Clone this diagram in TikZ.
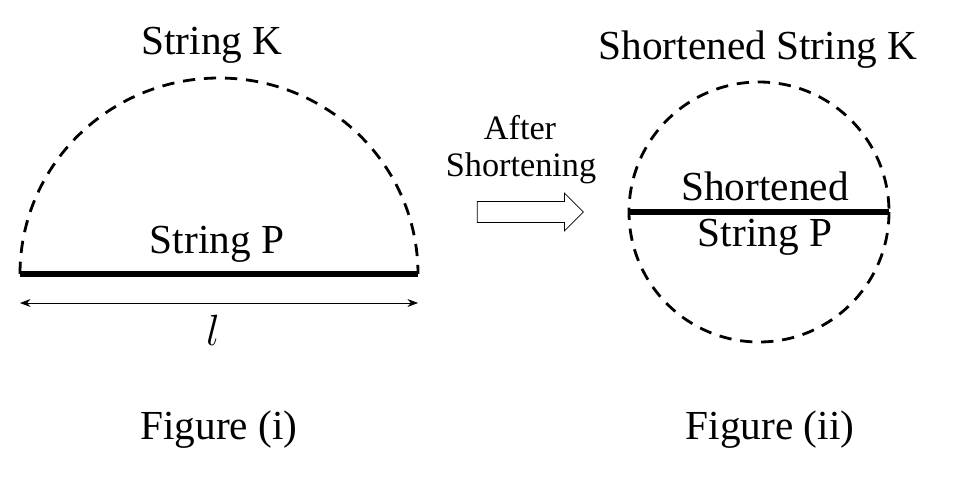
\documentclass[tikz,border=0pt]{standalone}
\usepackage{fontspec}
\setmainfont{Liberation Serif}
\usetikzlibrary{shapes.arrows,arrows.meta}
\begin{document}
\begin{tikzpicture}[x=0.02cm, y=-0.02cm,
    label text/.style = {font=\fontsize{23.5}{27}\selectfont},
    small text/.style = {font=\fontsize{19.5}{23}\selectfont},
    dashed curve/.style = {line width=1.6pt, dash pattern=on 7pt off 5pt},
    thick string/.style = {line width=3pt}]
    \useasboundingbox (0,0) rectangle (953,483);
    % figure (i)
    \coordinate (PL) at (20,274);
    \coordinate (PR) at (418,274);
    \draw[dashed curve] (PL) arc[start angle=180, end angle=0, x radius=199, y radius=-196];
    \draw[thick string] (PL) -- (PR);
    \coordinate (DL) at (20,303);
    \coordinate (DR) at (418,303);
    \draw[{Stealth[length=6pt]}-{Stealth[length=6pt]}] (DL) -- (DR);
    \node[label text] (K) at (212,45) {String K};
    \node[label text] (P) at (217,244) {String P};
    \node[label text] (len) at (213,330) {$l$};
    \node[label text] (fig1) at (219,430) {Figure (i)};
    % arrow between
    \node[small text] (after) at (520,128) {After};
    \node[small text] (short) at (521,168) {Shortening};
    \node[single arrow, draw, thin, minimum width=0.75cm, minimum height=2.12cm,
          single arrow head extend=4pt, inner sep=5pt] (arr) at (525,212) {};
    % figure (ii)
    \coordinate (C) at (759,212);
    \draw[dashed curve] (C) circle[radius=130];
    \coordinate (QL) at (629,212);
    \coordinate (QR) at (889,212);
    \draw[thick string] (QL) -- (QR);
    \node[label text] (K2) at (758,50) {Shortened String K};
    \node[label text] (P2a) at (765,186) {Shortened};
    \node[label text] (P2b) at (765,237) {String P};
    \node[label text] (fig2) at (770,430) {Figure (ii)};
\end{tikzpicture}
\end{document}
